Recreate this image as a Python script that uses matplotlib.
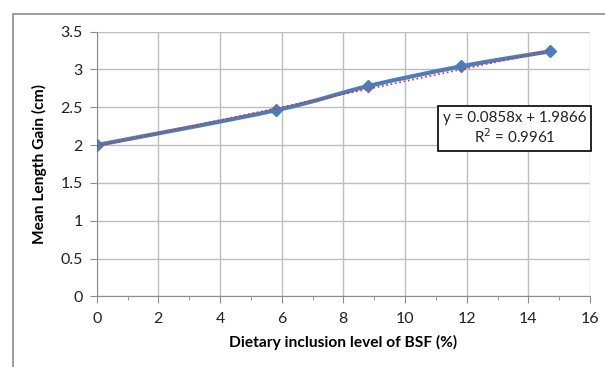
import matplotlib
matplotlib.use('Agg')
import matplotlib.pyplot as plt
from matplotlib.path import Path
from matplotlib.patches import PathPatch, Rectangle
import numpy as np

plt.rcParams['font.family'] = ['Lato', 'DejaVu Sans']

# Data
inclusion = [0, 5.8, 8.8, 11.8, 14.7]
length_gain = [2.0, 2.46, 2.78, 3.04, 3.24]
slope, intercept = 0.0858, 1.9866
eq_text = "y = 0.0858x + 1.9866\nR$^2$ = 0.9961"
xticks = [0, 2, 4, 6, 8, 10, 12, 14, 16]
yticks = [0, 0.5, 1, 1.5, 2, 2.5, 3, 3.5]

W, H = 605, 367
fig = plt.figure(figsize=(W / 100, H / 100), dpi=100)
ax = fig.add_axes([96.7 / W, 1 - 296.3 / H, (590 - 96.7) / W, (296.3 - 31.7) / H])

# outer chart frame
fig.patches.append(Rectangle((13 / W, -0.1), 1.2, 1 - 14 / H + 0.1,
                             transform=fig.transFigure, fill=False,
                             edgecolor='#8c8c8c', linewidth=1.2))

ax.set_xlim(0, 16)
ax.set_ylim(0, 3.5)
ax.set_xticks(xticks)
ax.set_yticks(yticks)
ax.set_yticklabels([f"{t:g}" for t in yticks])
ax.set_xticks(np.arange(1, 16, 2), minor=True)
ax.grid(True, color='#bdbdbd', linewidth=1.0)
ax.set_axisbelow(True)
for s in ['top', 'right']:
    ax.spines[s].set_visible(False)
for s in ['left', 'bottom']:
    ax.spines[s].set_color('#8c8c8c')
ax.tick_params(axis='both', which='major', length=5, color='#8c8c8c',
               labelsize=11.5, labelcolor='#222222')
ax.tick_params(axis='x', which='minor', length=3, direction='out', color='#8c8c8c')
ax.tick_params(axis='x', pad=6)
ax.tick_params(axis='y', pad=5)

# smoothed series line (Excel-style Bezier through the points)
pts = np.column_stack([inclusion, length_gain])
ext = np.vstack([pts[0], pts, pts[-1]])
verts = [tuple(pts[0])]
codes = [Path.MOVETO]
for i in range(1, len(ext) - 2):
    p0, p1, p2, p3 = ext[i - 1], ext[i], ext[i + 1], ext[i + 2]
    c1 = p1 + (p2 - p0) / 6
    c2 = p2 - (p3 - p1) / 6
    verts += [tuple(c1), tuple(c2), tuple(p2)]
    codes += [Path.CURVE4] * 3
ax.add_patch(PathPatch(Path(verts, codes), facecolor='none',
                       edgecolor='#4a7ebb', linewidth=3, zorder=3))
ax.plot(inclusion, length_gain, linestyle='none', marker='D', markersize=6,
        color='#4a7ebb', zorder=4)

# linear trendline
tx = np.array([inclusion[0], inclusion[-1]])
ax.plot(tx, slope * tx + intercept, color='#e03030', linestyle=':',
        linewidth=1.2, zorder=5)

ax.text(514.5 / W, 1 - 128.5 / H, eq_text, transform=fig.transFigure,
        ha='center', va='center', fontsize=10.9, color='#222222',
        linespacing=1.2,
        bbox=dict(boxstyle='square,pad=0.3', facecolor='white',
                  edgecolor='black', linewidth=1.2))

ax.set_xlabel('Dietary inclusion level of BSF (%)', fontsize=11.2,
              fontweight='bold', labelpad=7)
ax.set_ylabel('Mean Length Gain (cm)', fontsize=11.2, fontweight='bold',
              labelpad=10)

fig.savefig('out.png', dpi=100, facecolor='white')
